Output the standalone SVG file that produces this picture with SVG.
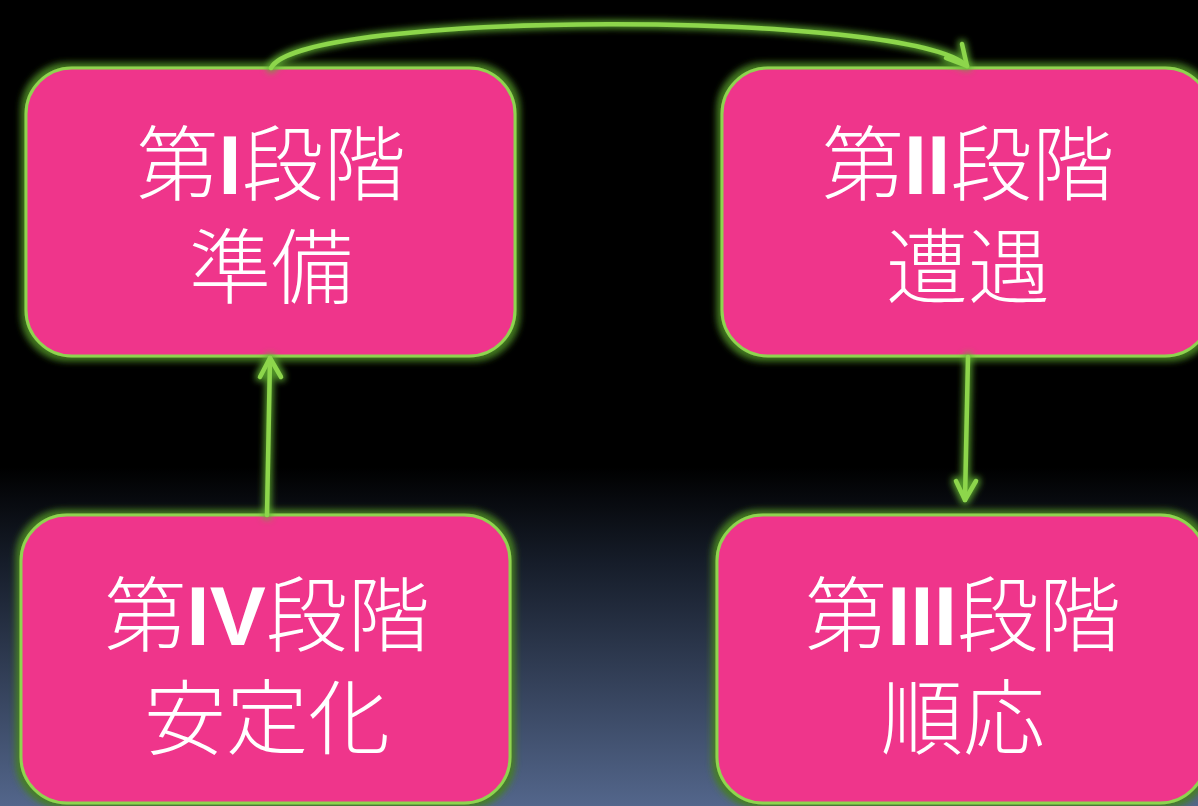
<svg xmlns="http://www.w3.org/2000/svg" width="1198" height="806" viewBox="0 0 1198 806">
<defs>
<linearGradient id="bg" x1="0" y1="0" x2="0" y2="1">
<stop offset="0" stop-color="#000000"/>
<stop offset="0.58" stop-color="#000000"/>
<stop offset="0.7" stop-color="#161d2a"/>
<stop offset="1" stop-color="#53668b"/>
</linearGradient>
<filter id="glow" x="-20%" y="-20%" width="140%" height="140%">
<feMorphology in="SourceAlpha" operator="dilate" radius="4" result="d"/>
<feGaussianBlur in="d" stdDeviation="3" result="b"/>
<feFlood flood-color="#467f22" flood-opacity="0.95"/>
<feComposite operator="in" in2="b" result="g"/>
<feMerge><feMergeNode in="g"/><feMergeNode in="SourceGraphic"/></feMerge>
</filter>
<filter id="lglow" x="-50%" y="-50%" width="200%" height="200%">
<feMorphology in="SourceAlpha" operator="dilate" radius="2" result="d"/>
<feGaussianBlur in="d" stdDeviation="3" result="b"/>
<feFlood flood-color="#5fae30" flood-opacity="0.85"/>
<feComposite operator="in" in2="b" result="g"/>
<feMerge><feMergeNode in="g"/><feMergeNode in="SourceGraphic"/></feMerge>
</filter>
</defs>
<style>
.box{fill:#ef358b;stroke:#8fd44f;stroke-width:3}
.lbl{font-family:"Noto Sans CJK JP","Noto Sans",sans-serif;font-size:82px;font-weight:300;fill:#ffffff;text-anchor:middle}
.rn{font-family:"Liberation Sans",Arial,sans-serif;font-weight:bold;font-size:84px}
.con{fill:none;stroke:#8dd64c;stroke-width:4.5;stroke-linecap:round;stroke-linejoin:round}
</style>
<rect x="0" y="0" width="1198" height="806" fill="url(#bg)"/>
<g id="node1" filter="url(#glow)">
<rect class="box" x="26" y="68" width="489" height="288" rx="46" ry="46"/>
<text class="lbl"><tspan x="271" y="194">第<tspan class="rn">I</tspan>段階</tspan><tspan x="271" y="297">準備</tspan></text>
</g>
<g id="node2" filter="url(#glow)">
<rect class="box" x="722" y="68" width="489" height="288" rx="46" ry="46"/>
<text class="lbl"><tspan x="968" y="194">第<tspan class="rn">II</tspan>段階</tspan><tspan x="968" y="297">遭遇</tspan></text>
</g>
<g id="node3" filter="url(#glow)">
<rect class="box" x="717" y="515" width="489" height="288" rx="46" ry="46"/>
<text class="lbl"><tspan x="963" y="645">第<tspan class="rn">III</tspan>段階</tspan><tspan x="963" y="748">順応</tspan></text>
</g>
<g id="node4" filter="url(#glow)">
<rect class="box" x="21" y="515" width="489" height="288" rx="46" ry="46"/>
<text class="lbl"><tspan x="267" y="645">第<tspan class="rn">IV</tspan>段階</tspan><tspan x="267" y="748">安定化</tspan></text>
</g>
<g id="connectors" filter="url(#lglow)">
<path class="con" d="M271,68 C300,10 910,10 967,66"/>
<polyline class="con" points="962,44 967,66 946,58"/>
<path class="con" d="M968,357 L965,500"/>
<polyline class="con" points="956,481 965,500 976,481"/>
<path class="con" d="M267,515 L270,358"/>
<polyline class="con" points="260,377 270,358 281,377"/>
</g>
</svg>
